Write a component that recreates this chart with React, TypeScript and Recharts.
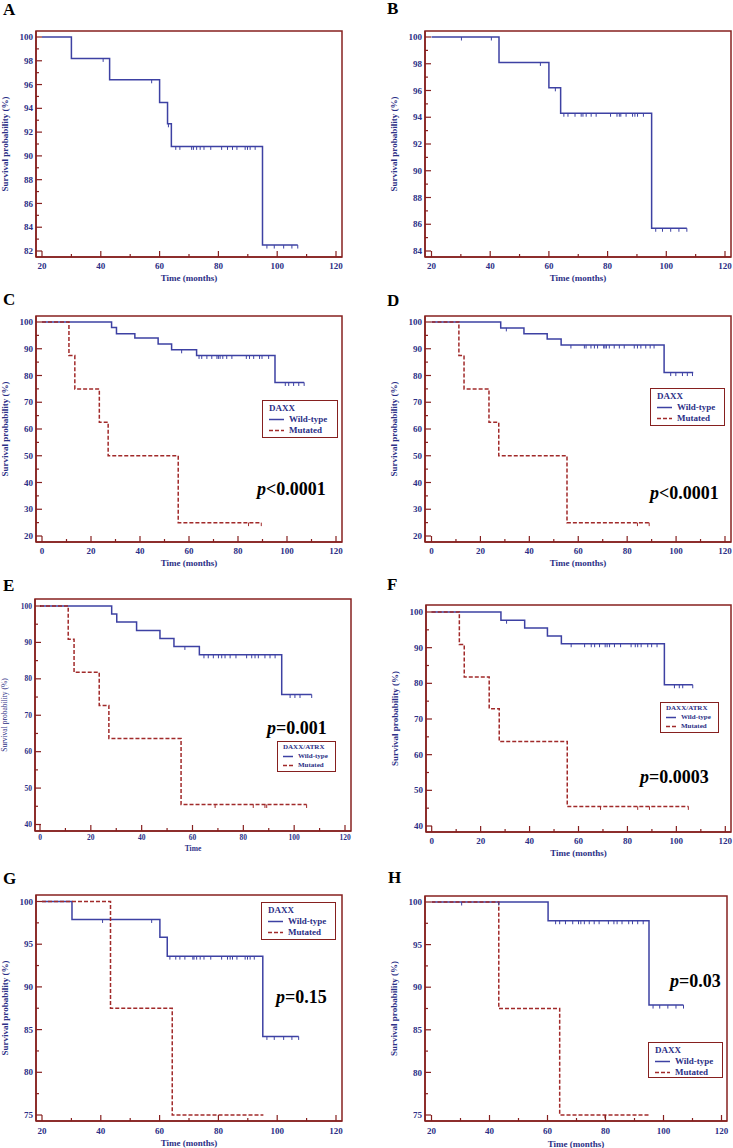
import React from 'react';
import { ComposedChart, Line, Scatter, XAxis, YAxis, Legend, CartesianGrid } from 'recharts';

const NAVY = '#2c2f86';
const BLUE = '#3d41a3';
const RED = '#a12a2a';
const FRAME = '#86201f';
const SERIF = '"Liberation Serif", "Times New Roman", Times, serif';

// axis ticks (all tick marks) and the ones that carry a label
const xTicksFrom20 = [20, 30, 40, 50, 60, 70, 80, 90, 100, 110, 120];
const xLabelsFrom20 = [20, 40, 60, 80, 100, 120];
const xTicksFrom0 = [0, 10, 20, 30, 40, 50, 60, 70, 80, 90, 100, 110, 120];
const xLabelsFrom0 = [0, 20, 40, 60, 80, 100, 120];
const yTicksA = [82, 83, 84, 85, 86, 87, 88, 89, 90, 91, 92, 93, 94, 95, 96, 97, 98, 99, 100];
const yLabelsA = [82, 84, 86, 88, 90, 92, 94, 96, 98, 100];
const yTicksB = [84, 85, 86, 87, 88, 89, 90, 91, 92, 93, 94, 95, 96, 97, 98, 99, 100];
const yLabelsB = [84, 86, 88, 90, 92, 94, 96, 98, 100];
const yTicksCD = [20, 25, 30, 35, 40, 45, 50, 55, 60, 65, 70, 75, 80, 85, 90, 95, 100];
const yLabelsCD = [20, 30, 40, 50, 60, 70, 80, 90, 100];
const yTicksEF = [40, 45, 50, 55, 60, 65, 70, 75, 80, 85, 90, 95, 100];
const yLabelsEF = [40, 50, 60, 70, 80, 90, 100];
const yTicksGH = [75, 77.5, 80, 82.5, 85, 87.5, 90, 92.5, 95, 97.5, 100];
const yLabelsGH = [75, 80, 85, 90, 95, 100];

// Panel A
const aWildTime = [20, 30, 43, 60, 62.7, 64, 95, 107];
const aWildSurv = [100, 98.2, 96.4, 94.5, 92.7, 90.8, 82.5, 82.5];
const aWildCens = [40.8, 57.3, 63, 65.5, 66.9, 70.9, 71.5, 72.6, 73.8, 75.1, 77.4, 81.1, 83.1, 84.8, 86.3, 89.1, 89.9, 90.8, 92.5, 96.5, 99, 102.2, 105, 107];

// Panel B
const bWildTime = [20, 43, 60, 64, 95, 107];
const bWildSurv = [100, 98.1, 96.2, 94.3, 85.7, 85.7];
const bWildCens = [30.2, 40.4, 57.1, 62.2, 65.1, 66.5, 68.9, 71, 71.6, 72.7, 74.4, 76.1, 81, 83.2, 84, 84.5, 86.3, 88.5, 89.3, 90.2, 92.2, 96.4, 98.7, 101.5, 104.3, 107];

// Panel C
const cWildTime = [0, 28.4, 30.4, 37.9, 47.4, 52.9, 63.1, 95.1, 107];
const cWildSurv = [100, 97.9, 95.6, 94, 91.8, 89.6, 87.5, 77.4, 77.4];
const cWildCens = [57, 64.1, 65.2, 67.3, 69.3, 71.4, 72, 72.7, 73.8, 75.4, 77.5, 83.4, 84.7, 86.4, 88.8, 89.8, 92.5, 99.3, 100.7, 102.7, 104.8, 107];
const cMutTime = [0, 11, 13.4, 23.4, 27, 55.6, 89.5];
const cMutSurv = [100, 87.5, 75, 62.5, 50, 25, 25];
const cMutCens = [84.3, 89.5];

// Panel D
const dWildTime = [0, 28.3, 37.8, 47.3, 53, 95.1, 107];
const dWildSurv = [100, 97.8, 95.6, 93.6, 91.4, 81.1, 81.1];
const dWildCens = [30.6, 57, 62.5, 63.2, 65.2, 66.6, 67.9, 70.4, 70.9, 71.5, 72.7, 74.7, 76.8, 78.8, 82.9, 84.2, 85.6, 87.6, 89.4, 91, 97.8, 99.9, 102.6, 104.6, 106.7];
const dMutTime = [0, 11.2, 13.3, 23.5, 27.5, 55.4, 89];
const dMutSurv = [100, 87.5, 75, 62.5, 50, 25, 25];
const dMutCens = [84.2, 89];

// Panel E
const eWildTime = [0, 28.2, 30.2, 38, 47.2, 52.7, 62.7, 95.1, 106.9];
const eWildSurv = [100, 97.8, 95.6, 93.3, 91.1, 88.9, 86.6, 75.7, 75.7];
const eWildCens = [57, 64.5, 66.2, 68.2, 70.2, 71.5, 72.8, 74.8, 77.1, 81.3, 83.3, 84.6, 85.9, 88.5, 90.5, 92.5, 98.4, 100.3, 102.3, 106.9];
const eMutTime = [0, 11.1, 13.4, 23.3, 27.1, 55.5, 104.9];
const eMutSurv = [100, 90.9, 81.8, 72.7, 63.6, 45.5, 45.5];
const eMutCens = [68.9, 83.9, 88.5, 89.2, 104.9];

// Panel F
const fWildTime = [0, 28.3, 38, 47.3, 53, 95.1, 106.7];
const fWildSurv = [100, 97.7, 95.5, 93.3, 91.1, 79.6, 79.6];
const fWildCens = [30.6, 57, 62.5, 65.2, 66.6, 68.6, 70.9, 71.7, 72.7, 74.7, 77.2, 81.5, 83.2, 84.2, 85.6, 88.3, 89.9, 92.1, 99.2, 101.2, 102.6, 106.7];
const fMutTime = [0, 11.3, 13.3, 23.5, 27.6, 55.4, 104.9];
const fMutSurv = [100, 90.9, 81.8, 72.9, 63.7, 45.5, 45.5];
const fMutCens = [69, 84.2, 89, 104.9];

// Panel G
const gWildTime = [20, 30.2, 60.1, 62.6, 95.1, 107.3];
const gWildSurv = [100, 97.9, 95.8, 93.6, 84.2, 84.2];
const gWildCens = [40.6, 57.3, 63.5, 65.5, 66.9, 68.6, 71.3, 71.7, 72.6, 73.8, 75.1, 77.4, 81.1, 83.1, 84, 84.8, 86.3, 89.1, 89.9, 90.8, 92.2, 96.5, 99, 102.2, 105, 107.3];
const gMutTime = [20, 43.3, 64.3, 95.3];
const gMutSurv = [100, 87.5, 75, 75];
const gMutCens: number[] = [];

// Panel H
const hWildTime = [20, 60.2, 95, 106.9];
const hWildSurv = [100, 97.8, 87.9, 87.9];
const hWildCens = [30.4, 43.2, 62.8, 64.2, 66.2, 68.7, 70.7, 71.5, 72.7, 74.4, 76.1, 77.8, 81, 82.9, 84, 85.7, 88, 89.3, 91.1, 93, 96.4, 98.7, 101.5, 104.3, 106.9];
const hMutTime = [20, 43.2, 64.2, 95.3];
const hMutSurv = [100, 87.5, 75, 75];
const hMutCens = [79.8];

type Curve = { name: string; time: number[]; surv: number[]; cens: number[] };
type Box = { x: number; y: number; w: number; h: number };
type PanelCfg = {
  letter: string;
  letterAt: [number, number];
  box: Box;
  pad: { l: number; r: number; t: number; b: number };
  xTicks: number[];
  xLabels: number[];
  yTicks: number[];
  yLabels: number[];
  wild: Curve;
  mut?: Curve;
  small?: boolean;
  xTitle: string;
  xTickGap: number;
  xTitleOffset: number;
  legend?: Box & { title: string; small?: boolean };
  pValue?: { sign: string; value: string; x: number; y: number };
};

const wildName = 'Wild-type';
const mutName = 'Mutated';

const panels: PanelCfg[] = [
  {
    letter: 'A', letterAt: [3, 15], box: { x: 36, y: 31, w: 306, h: 226 }, pad: { l: 6, r: 6, t: 6, b: 6 },
    xTicks: xTicksFrom20, xLabels: xLabelsFrom20, yTicks: yTicksA, yLabels: yLabelsA,
    wild: { name: wildName, time: aWildTime, surv: aWildSurv, cens: aWildCens },
    xTitle: 'Time (months)', xTickGap: 9, xTitleOffset: 6,
  },
  {
    letter: 'B', letterAt: [387, 14], box: { x: 425, y: 31, w: 306, h: 226 }, pad: { l: 6.5, r: 6, t: 6, b: 6 },
    xTicks: xTicksFrom20, xLabels: xLabelsFrom20, yTicks: yTicksB, yLabels: yLabelsB,
    wild: { name: wildName, time: bWildTime, surv: bWildSurv, cens: bWildCens },
    xTitle: 'Time (months)', xTickGap: 9, xTitleOffset: 6,
  },
  {
    letter: 'C', letterAt: [3, 305], box: { x: 36, y: 316, w: 306, h: 226 }, pad: { l: 6, r: 6, t: 6, b: 6 },
    xTicks: xTicksFrom0, xLabels: xLabelsFrom0, yTicks: yTicksCD, yLabels: yLabelsCD,
    wild: { name: wildName, time: cWildTime, surv: cWildSurv, cens: cWildCens },
    mut: { name: mutName, time: cMutTime, surv: cMutSurv, cens: cMutCens },
    xTitle: 'Time (months)', xTickGap: 9, xTitleOffset: 6,
    legend: { x: 262, y: 400, w: 76, h: 38, title: 'DAXX' },
    pValue: { sign: '<', value: '0.0001', x: 257, y: 495 },
  },
  {
    letter: 'D', letterAt: [387, 306], box: { x: 425, y: 316, w: 306, h: 226 }, pad: { l: 6.5, r: 6, t: 6, b: 6 },
    xTicks: xTicksFrom0, xLabels: xLabelsFrom0, yTicks: yTicksCD, yLabels: yLabelsCD,
    wild: { name: wildName, time: dWildTime, surv: dWildSurv, cens: dWildCens },
    mut: { name: mutName, time: dMutTime, surv: dMutSurv, cens: dMutCens },
    xTitle: 'Time (months)', xTickGap: 9, xTitleOffset: 6,
    legend: { x: 650, y: 388, w: 75, h: 38, title: 'DAXX' },
    pValue: { sign: '<', value: '0.0001', x: 650, y: 499 },
  },
  {
    letter: 'E', letterAt: [3, 591], box: { x: 35, y: 599, w: 316, h: 232 }, pad: { l: 5, r: 6, t: 7, b: 6.5 },
    xTicks: xTicksFrom0, xLabels: xLabelsFrom0, yTicks: yTicksEF, yLabels: yLabelsEF,
    wild: { name: wildName, time: eWildTime, surv: eWildSurv, cens: eWildCens },
    mut: { name: mutName, time: eMutTime, surv: eMutSurv, cens: eMutCens },
    small: true, xTitle: 'Time', xTickGap: 6, xTitleOffset: 10,
    legend: { x: 277, y: 741, w: 59, h: 31, title: 'DAXX/ATRX', small: true },
    pValue: { sign: '=', value: '0.001', x: 267, y: 734 },
  },
  {
    letter: 'F', letterAt: [387, 590], box: { x: 426, y: 605, w: 305, h: 227 }, pad: { l: 5.7, r: 5.7, t: 7, b: 6 },
    xTicks: xTicksFrom0, xLabels: xLabelsFrom0, yTicks: yTicksEF, yLabels: yLabelsEF,
    wild: { name: wildName, time: fWildTime, surv: fWildSurv, cens: fWildCens },
    mut: { name: mutName, time: fMutTime, surv: fMutSurv, cens: fMutCens },
    xTitle: 'Time (months)', xTickGap: 9, xTitleOffset: 6,
    legend: { x: 660, y: 702, w: 59, h: 31, title: 'DAXX/ATRX', small: true },
    pValue: { sign: '=', value: '0.0003', x: 640, y: 783 },
  },
  {
    letter: 'G', letterAt: [3, 884], box: { x: 36, y: 895, w: 306, h: 226 }, pad: { l: 6, r: 6, t: 6.5, b: 6 },
    xTicks: xTicksFrom20, xLabels: xLabelsFrom20, yTicks: yTicksGH, yLabels: yLabelsGH,
    wild: { name: wildName, time: gWildTime, surv: gWildSurv, cens: gWildCens },
    mut: { name: mutName, time: gMutTime, surv: gMutSurv, cens: gMutCens },
    xTitle: 'Time (months)', xTickGap: 10, xTitleOffset: 5,
    legend: { x: 261, y: 902, w: 75, h: 38, title: 'DAXX' },
    pValue: { sign: '=', value: '0.15', x: 276, y: 1003 },
  },
  {
    letter: 'H', letterAt: [388, 883], box: { x: 425, y: 896, w: 302, h: 225 }, pad: { l: 6.5, r: 5.5, t: 6, b: 6 },
    xTicks: xTicksFrom20, xLabels: xLabelsFrom20, yTicks: yTicksGH, yLabels: yLabelsGH,
    wild: { name: wildName, time: hWildTime, surv: hWildSurv, cens: hWildCens },
    mut: { name: mutName, time: hMutTime, surv: hMutSurv, cens: hMutCens },
    xTitle: 'Time (months)', xTickGap: 10, xTitleOffset: 4,
    legend: { x: 648, y: 1042, w: 75, h: 36, title: 'DAXX' },
    pValue: { sign: '=', value: '0.03', x: 670, y: 987 },
  },
];

// Kaplan-Meier value at time t (step function)
function survAt(times: number[], surv: number[], t: number) {
  let s = surv[0];
  for (let i = 0; i < times.length; i++) if (times[i] <= t) s = surv[i];
  return s;
}

function XTick(props: any) {
  const { x, y, payload, labels, fs, gap, weight } = props;
  const major = labels.includes(payload.value);
  return (
    <g>
      <line x1={x} x2={x} y1={y} y2={y - (major ? 6 : 3)} stroke={FRAME} strokeWidth={1.2} />
      {major && (
        <text x={x} y={y + gap} dy="0.35em" textAnchor="middle" fill={NAVY} fontSize={fs} fontWeight={weight} fontFamily={SERIF}>
          {payload.value}
        </text>
      )}
    </g>
  );
}

function YTick(props: any) {
  const { x, y, payload, labels, fs, weight } = props;
  const major = labels.includes(payload.value);
  return (
    <g>
      <line x1={x} x2={x + (major ? 6 : 3)} y1={y} y2={y} stroke={FRAME} strokeWidth={1.2} />
      {major && (
        <text x={x - 3} y={y} dy="0.35em" textAnchor="end" fill={NAVY} fontSize={fs} fontWeight={weight} fontFamily={SERIF}>
          {payload.value}
        </text>
      )}
    </g>
  );
}

type Drawn = { c: Curve; color: string; dash?: string };

function LegendBox({ lg, curves }: { lg: Box & { title: string; small?: boolean }; curves: Drawn[] }) {
  const small = lg.small;
  const fs = small ? 7 : 9;
  const rowH = small ? 9 : 11;
  const sampleX = small ? 5 : 6;
  const sampleW = small ? 10 : 15;
  const textX = small ? 20 : 26;
  return (
    <div
      style={{
        width: lg.w, height: lg.h, boxSizing: 'border-box', border: `1px solid ${FRAME}`, background: '#fff',
        paddingTop: small ? 1 : 2, fontFamily: SERIF, fontSize: fs, fontWeight: 700, color: NAVY, lineHeight: `${rowH}px`,
      }}
    >
      <div style={{ paddingLeft: sampleX }}>{lg.title}</div>
      {curves.map((d) => (
        <div key={d.c.name} style={{ position: 'relative', height: rowH }}>
          <svg style={{ position: 'absolute', left: sampleX, top: 0 }} width={sampleW} height={rowH}>
            <line x1={0} x2={sampleW} y1={rowH / 2} y2={rowH / 2} stroke={d.color} strokeWidth={1.5} strokeDasharray={d.dash} />
          </svg>
          <span style={{ position: 'absolute', left: textX, top: 0, whiteSpace: 'nowrap' }}>{d.c.name}</span>
        </div>
      ))}
    </div>
  );
}

function Panel({ cfg }: { cfg: PanelCfg }) {
  const { box } = cfg;
  const chartLeft = box.x - 40;
  const chartTop = box.y - 6;
  const tickFs = cfg.small ? 7.5 : 9;
  const labelFs = cfg.small ? 7.5 : 9;
  const labelWeight = cfg.small ? 400 : 700;
  const xDomain = [cfg.xTicks[0], cfg.xTicks[cfg.xTicks.length - 1]];
  const yDomain = [cfg.yTicks[0], cfg.yTicks[cfg.yTicks.length - 1]];
  const drawn: Drawn[] = [{ c: cfg.wild, color: BLUE }];
  if (cfg.mut) drawn.push({ c: cfg.mut, color: RED, dash: '4 2' });
  const frameLine = { stroke: FRAME, strokeWidth: 1.5 };

  return (
    <>
      <div
        style={{
          position: 'absolute', left: cfg.letterAt[0], top: cfg.letterAt[1] - 14, fontFamily: SERIF,
          fontSize: 17, lineHeight: '17px', fontWeight: 700, color: '#000',
        }}
      >
        {cfg.letter}
      </div>
      <div style={{ position: 'absolute', left: chartLeft, top: chartTop }}>
        <ComposedChart width={box.w + 42} height={box.h + 36} margin={{ top: 6, right: 2, bottom: 0, left: 0 }}>
          {/* plot frame: grid background rect, outlined via CSS */}
          <CartesianGrid horizontal={false} vertical={false} fill="#fff" />
          <XAxis
            dataKey="t"
            type="number"
            domain={xDomain}
            ticks={cfg.xTicks}
            interval={0}
            padding={{ left: cfg.pad.l, right: cfg.pad.r }}
            height={30}
            tickSize={0}
            tickMargin={0}
            tickLine={false}
            axisLine={frameLine}
            tick={(p: any) => <XTick {...p} labels={cfg.xLabels} fs={tickFs} gap={cfg.xTickGap} weight={700} />}
            label={{
              value: cfg.xTitle, position: 'insideBottom', offset: cfg.xTitleOffset,
              style: { fill: NAVY, fontSize: cfg.small ? 7.5 : 9, fontWeight: 700, fontFamily: SERIF },
            }}
          />
          <YAxis
            dataKey="s"
            type="number"
            domain={yDomain}
            ticks={cfg.yTicks}
            interval={0}
            padding={{ top: cfg.pad.t, bottom: cfg.pad.b }}
            width={40}
            tickSize={0}
            tickMargin={0}
            tickLine={false}
            axisLine={frameLine}
            tick={(p: any) => <YTick {...p} labels={cfg.yLabels} fs={tickFs} weight={700} />}
            label={{
              value: 'Survival probability (%)', angle: -90, position: 'insideLeft', offset: 9,
              style: { textAnchor: 'middle', fill: NAVY, fontSize: labelFs, fontWeight: labelWeight, fontFamily: SERIF },
            }}
          />
          {drawn.map((d) => (
            <Line
              key={'l' + d.c.name}
              data={d.c.time.map((t, i) => ({ t, s: d.c.surv[i] }))}
              dataKey="s"
              name={d.c.name}
              type="stepAfter"
              stroke={d.color}
              strokeWidth={1.5}
              strokeDasharray={d.dash}
              dot={false}
              activeDot={false}
              isAnimationActive={false}
            />
          ))}
          {drawn.map((d) => (
            <Scatter
              key={'c' + d.c.name}
              data={d.c.cens.map((t) => ({ t, s: survAt(d.c.time, d.c.surv, t) }))}
              dataKey="s"
              legendType="none"
              isAnimationActive={false}
              shape={(p: any) => (
                <line x1={p.cx} x2={p.cx} y1={p.cy} y2={p.cy + 3.5} stroke={d.color} strokeWidth={1} />
              )}
            />
          ))}
          {cfg.legend && (
            <Legend
              layout="vertical"
              align="center"
              verticalAlign="middle"
              wrapperStyle={{ left: cfg.legend.x - chartLeft, top: cfg.legend.y - chartTop, width: cfg.legend.w, height: cfg.legend.h }}
              content={() => <LegendBox lg={cfg.legend!} curves={drawn} />}
            />
          )}
        </ComposedChart>
      </div>
      {cfg.pValue && (
        <div
          style={{
            position: 'absolute', left: cfg.pValue.x, top: cfg.pValue.y - 15, fontFamily: SERIF, fontSize: 18,
            lineHeight: '18px', fontWeight: 700, color: '#000', whiteSpace: 'nowrap',
          }}
        >
          <i>p</i>
          {cfg.pValue.sign}
          {cfg.pValue.value}
        </div>
      )}
    </>
  );
}

export default function App() {
  return (
    <div style={{ position: 'absolute', left: 0, top: 0, width: 733, height: 1148, background: '#fff', overflow: 'hidden' }}>
      <style>{`.recharts-cartesian-grid-bg { stroke: ${FRAME}; stroke-width: 1.5px; }`}</style>
      {panels.map((cfg) => (
        <Panel key={cfg.letter} cfg={cfg} />
      ))}
    </div>
  );
}
